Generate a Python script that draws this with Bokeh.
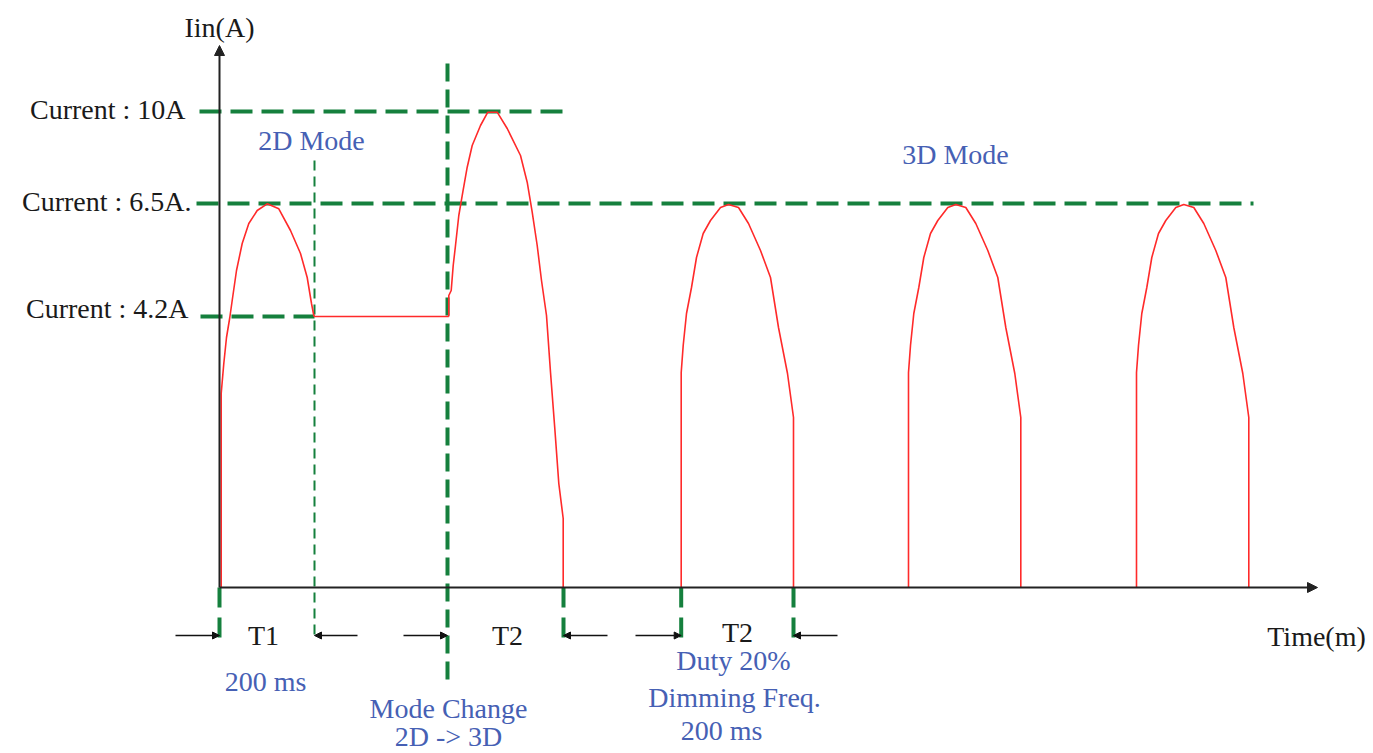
from bokeh.plotting import figure
from bokeh.models import Range1d, ColumnDataSource, Arrow, NormalHead
from bokeh.core.properties import value
from bokeh.embed import file_html
from bokeh.resources import INLINE

# ---------------- data (schematic units: time along x, drawn current height along y) ----------------
level_labels = ["Current : 10A", "Current :  6.5A.", "Current : 4.2A"]
level_heights = [476, 384, 271]          # drawn height of 10A, 6.5A, 4.2A on the schematic
level_line_start = [-20, -23, -19]
level_line_end = [344, 1034, 95]

# 2D mode pulse (T1, 200 ms) then hold at 4.2A
pulse1_t = [1.7, 1.7, 4.3, 7, 10.3, 12.7, 17, 22.7, 29.3, 37.7, 47.7, 59.3, 71, 81, 87.7, 92, 94.3, 95, 229.3]
pulse1_i = [0, 194, 224, 250, 270, 287, 317, 344, 364, 377, 383.7, 378.7, 357, 334, 310, 284, 272, 271, 271]

# mode-change pulse (T2) up to 10A
pulse2_t = [229.3, 229.3, 231.7, 233.7, 236, 239.3, 243.3, 247.7, 252.7, 261, 268.3, 277.7, 287.7, 301,
            307.7, 312.7, 317.7, 322, 327, 331, 335.3, 339.3, 343.7, 343.7]
pulse2_i = [271, 292, 297, 322, 342, 372, 395.3, 420.3, 442, 462, 475.3, 475.3, 459, 432,
            405.3, 375.3, 342, 307, 272, 215.3, 159, 104, 69, 0]

# 3D mode pulses (6.5A peak), shape offsets and start times
pulse3_dt = [0, 0, 2, 5.3, 10.3, 15.3, 22, 29.3, 39.3, 47.3, 57.3, 67.3, 79.3, 89.3, 97.3, 106.3, 112.3, 112.3]
pulse3_i = [0, 215, 242, 274, 300, 330, 354, 367, 380, 383, 380, 364, 337, 310, 260, 214, 170, 0]
pulse3_starts = [461.7, 689, 917]

# time markers below the axis
marker_t = [0, 344, 461.7, 574]
mode_change_t = 228
t1_end_t = 95

# dimension arrows (tail -> tip)
arrow_tail = [-44, 138, 184, 388, 416, 618]
arrow_tip = [0, 95, 228, 344, 461.7, 574]

GREEN = "#15803d"
BLUE = "#4660b4"
RED = "#ff2a2a"
FONT = "Liberation Serif"

p = figure(width=1373, height=753, x_range=Range1d(-219, 1154), y_range=Range1d(-166, 587),
           x_axis_type=None, y_axis_type=None, output_backend="svg", toolbar_location=None,
           min_border=0, outline_line_color=None)
p.grid.visible = False
p.background_fill_color = "white"

# axes
p.add_layout(Arrow(x_start=0, y_start=0, x_end=0, y_end=542, line_color="#222222", line_width=2,
                   end=NormalHead(size=10, fill_color="#222222", line_color="#222222")))
p.add_layout(Arrow(x_start=0, y_start=0, x_end=1098, y_end=0, line_color="#222222", line_width=2,
                   end=NormalHead(size=10, fill_color="#222222", line_color="#222222")))

# level lines
for h, s, e in zip(level_heights, level_line_start, level_line_end):
    p.line([s, e], [h, h], line_color=GREEN, line_width=4, line_dash="22 9")

# mode change vertical
p.line([mode_change_t, mode_change_t], [524, -95], line_color=GREEN, line_width=4, line_dash="18 8")
# end of T1 thin vertical
p.line([t1_end_t, t1_end_t], [427, -50], line_color=GREEN, line_width=2, line_dash="10 6")
# markers
for t in marker_t:
    p.line([t, t], [0, -50], line_color=GREEN, line_width=4, line_dash="20 10")

# waveform
p.line(pulse1_t, pulse1_i, line_color=RED, line_width=1.6)
p.line(pulse2_t, pulse2_i, line_color=RED, line_width=1.6)
for s in pulse3_starts:
    p.line([s + d for d in pulse3_dt], pulse3_i, line_color=RED, line_width=1.6)

# arrows
for a, b in zip(arrow_tail, arrow_tip):
    p.add_layout(Arrow(x_start=a, y_start=-48, x_end=b, y_end=-48, line_color="#111111", line_width=1.5,
                       end=NormalHead(size=7, fill_color="#111111", line_color="#111111")))

# texts
black_src = ColumnDataSource(dict(
    x=[0, -34, -21, -31, 44, 288, 518, 1097],
    y=[560, 478, 386, 279, -48, -48, -45, -49],
    t=["Iin(A)"] + level_labels + ["T1", "T2", "T2", "Time(m)"],
    a=["center", "right", "right", "right", "center", "center", "center", "center"],
))
p.text(x="x", y="y", text="t", text_align="a", text_baseline="middle", source=black_src,
       text_font=value(FONT), text_font_size="28px", text_color="#1a1a1a")

blue_src = ColumnDataSource(dict(
    x=[92, 736, 46, 229, 229, 514, 515, 502],
    y=[447, 433, -94, -121, -149, -73, -110, -143],
    t=["2D Mode", "3D Mode", "200 ms", "Mode Change", "2D -> 3D", "Duty 20%", "Dimming Freq.", "200 ms"],
))
p.text(x="x", y="y", text="t", text_align="center", text_baseline="middle", source=blue_src,
       text_font=value(FONT), text_font_size="28px", text_color=BLUE)

open("out.html", "w").write(file_html(p, INLINE))
